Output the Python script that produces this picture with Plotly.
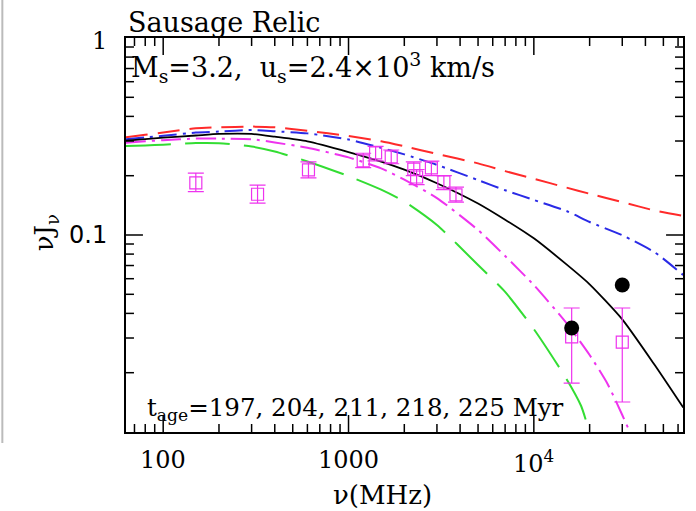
import math
import plotly.graph_objects as go

# ---------------- data ----------------
freq_model = [63, 80, 100, 150, 200, 300, 400, 600, 1000, 1500, 2000, 3000,
              5000, 7000, 10000, 15000, 20000, 30000, 45000, 64000]
red_model = [0.313, 0.323, 0.331, 0.348, 0.352, 0.355, 0.352, 0.338, 0.318, 0.299,
             0.282, 0.258, 0.231, 0.211, 0.193, 0.174, 0.162, 0.147, 0.133, 0.125]
blue_model = [0.306, 0.313, 0.319, 0.331, 0.335, 0.341, 0.336, 0.328, 0.3055, 0.277,
              0.2566, 0.227, 0.190, 0.1688, 0.1506, 0.1324, 0.1164, 0.0997, 0.0815, 0.0626]
black_model = [0.301, 0.307, 0.312, 0.320, 0.326, 0.326, 0.3155, 0.299, 0.2638, 0.2358,
               0.2145, 0.1832, 0.1445, 0.1195, 0.0962, 0.0709, 0.0562, 0.0373, 0.0218, 0.0133]

freq_magenta = [63, 80, 100, 150, 200, 300, 400, 600, 1000, 1500, 2000, 3000,
                5000, 7000, 10000, 15000, 20000, 25000, 30000, 33000, 35000]
magenta_model = [0.294, 0.2993, 0.303, 0.3085, 0.3085, 0.3064, 0.2948, 0.2772, 0.2477, 0.218,
                 0.1912, 0.154, 0.106, 0.0782, 0.0557, 0.0357, 0.0246, 0.01753, 0.0122, 0.0100, 0.0090]

freq_green = [63, 80, 100, 150, 200, 300, 400, 600, 1000, 1500, 2000, 3000,
              5000, 7000, 10000, 15000, 18000, 20000, 21000]
green_model = [0.283, 0.285, 0.2875, 0.293, 0.2924, 0.281, 0.2654, 0.2363, 0.199, 0.170,
               0.148, 0.1124, 0.0704, 0.0514, 0.0333, 0.0186, 0.01355, 0.0100, 0.0090]

freq_obs = [150, 323, 608, 1200, 1400, 1700, 2250, 2330, 2800, 3270, 3800, 16000, 30000]
flux_obs = [0.184, 0.161, 0.214, 0.238, 0.261, 0.249, 0.216, 0.197, 0.219, 0.186, 0.160, 0.0304, 0.0286]
flux_obs_hi = [0.206, 0.179, 0.235, 0.260, 0.282, 0.270, 0.235, 0.215, 0.237, 0.200, 0.175, 0.0426, 0.0426]
flux_obs_lo = [0.166, 0.145, 0.195, 0.220, 0.238, 0.230, 0.200, 0.180, 0.200, 0.170, 0.147, 0.0177, 0.0142]

freq_dots = [16000, 30000]
flux_dots = [0.0337, 0.0557]

x_range = [63, 63800]
y_range = [0.01, 1.0]
x_tick_values = [100, 1000, 10000]
x_tick_labels = ["100", "1000", "10<sup>4</sup>"]
x_minor_values = [70, 80, 90, 200, 300, 400, 500, 600, 700, 800, 900,
                  2000, 3000, 4000, 5000, 6000, 7000, 8000, 9000,
                  20000, 30000, 40000, 50000, 60000]
y_tick_values = [1.0, 0.1]
y_tick_labels = ["1", "0.1"]
y_minor_values = [0.02, 0.03, 0.04, 0.05, 0.06, 0.07, 0.08, 0.09,
                  0.2, 0.3, 0.4, 0.5, 0.6, 0.7, 0.8, 0.9]

# ---------------- figure ----------------
MAG = "#ee33ee"
fig = go.Figure()

def curve(x, y, color, dash, width=2):
    fig.add_trace(go.Scatter(x=x, y=y, mode="lines",
                             line=dict(color=color, width=width, dash=dash,
                                       shape="spline", smoothing=0.6)))

curve(freq_model, red_model, "#ff2a2a", "22px,10px")
curve(freq_model, blue_model, "#2a2ae6", "18px,6px,3px,6px")
curve(freq_model, black_model, "black", "solid", 1.8)
curve(freq_magenta, magenta_model, MAG, "20px,6px,3px,6px")
curve(freq_green, green_model, "#33dd33", "45px,14px")

err_plus = [h - v for h, v in zip(flux_obs_hi, flux_obs)]
err_minus = [v - l for v, l in zip(flux_obs, flux_obs_lo)]
fig.add_trace(go.Scatter(x=freq_obs, y=flux_obs, mode="markers",
                         marker=dict(symbol="square-open", size=12, color=MAG, line=dict(width=1.2, color=MAG)),
                         error_y=dict(type="data", array=err_plus, arrayminus=err_minus,
                                      color=MAG, thickness=1.2, width=8)))
fig.add_trace(go.Scatter(x=freq_dots, y=flux_dots, mode="markers",
                         marker=dict(symbol="circle", size=15, color="black")))

SERIF = "DejaVu Serif"
lx = [math.log10(v) for v in x_range]
ly = [math.log10(v) for v in y_range]

# ---- inward tick marks on all four sides (drawn as a line trace at the tick values) ----
PLOT_W, PLOT_H = 696 - 126 - 11, 511 - 38 - 79
XD = PLOT_W / (lx[1] - lx[0])   # px per decade (x)
YD = PLOT_H / (ly[1] - ly[0])   # px per decade (y)
MAJOR, MINOR = 17, 8
tx, ty = [], []
for vals, ln in [(x_tick_values, MAJOR), (x_minor_values, MINOR)]:
    f = 10 ** (ln / YD)
    for v in vals:
        tx += [v, v, None, v, v, None]
        ty += [y_range[0], y_range[0] * f, None, y_range[1], y_range[1] / f, None]
for vals, ln in [([0.1], MAJOR), (y_minor_values, MINOR)]:
    f = 10 ** (ln / XD)
    for v in vals:
        tx += [x_range[0], x_range[0] * f, None, x_range[1], x_range[1] / f, None]
        ty += [v, v, None, v, v, None]
fig.add_trace(go.Scatter(x=tx, y=ty, mode="lines", hoverinfo="skip",
                         line=dict(color="black", width=1.5), connectgaps=False))

fig.update_layout(
    width=696, height=511,
    margin=dict(l=126, r=11, t=38, b=79),
    paper_bgcolor="white", plot_bgcolor="white",
    showlegend=False,
    xaxis=dict(type="log", range=lx, showgrid=False, zeroline=False,
               showline=True, linecolor="black", linewidth=2, mirror=True,
               showticklabels=False, ticks=""),
    yaxis=dict(type="log", range=ly, showgrid=False, zeroline=False,
               showline=True, linecolor="black", linewidth=2, mirror=True,
               showticklabels=False, ticks=""),
)

# thin grey page edge seen at the left of the original image
fig.add_shape(type="line", xref="paper", yref="paper", x0=-0.222, x1=-0.222,
              y0=-0.028, y1=1.1, line=dict(color="#bbbbbb", width=2))

ann = [
    dict(text="Sausage Relic", x=0.0, y=1.0, xanchor="left", yanchor="bottom", yshift=-2,
         font=dict(size=27, family=SERIF)),
    dict(text="M<sub>s</sub>=3.2,  u<sub>s</sub>=2.4×10<sup>3</sup> km/s", x=0.006, y=0.924,
         xanchor="left", yanchor="middle", font=dict(size=27, family=SERIF)),
    dict(text="t<sub>age</sub>=197, 204, 211, 218, 225 Myr", x=0.034, y=0.058,
         xanchor="left", yanchor="middle", font=dict(size=24.5, family=SERIF)),
    dict(text="νJ<sub>ν</sub>", x=-0.145, y=0.505, xanchor="center", yanchor="middle",
         textangle=-90, font=dict(size=26, family=SERIF)),
    dict(text="ν(MHz)", x=0.46, y=-0.16, xanchor="center", yanchor="middle",
         font=dict(size=26, family=SERIF)),
]
for a in ann:
    a.update(xref="paper", yref="paper", showarrow=False)

# tick labels (placed at the axis values)
for v, t in zip(x_tick_values, x_tick_labels):
    ann.append(dict(text=t, x=math.log10(v), y=0, xref="x", yref="paper",
                    xanchor="center", yanchor="top", yshift=-12, showarrow=False,
                    font=dict(size=24, family=SERIF)))
fams = {"1": SERIF, "0.1": "DejaVu Sans"}
for v, t in zip(y_tick_values, y_tick_labels):
    ann.append(dict(text=t, x=0, y=math.log10(v), xref="paper", yref="y",
                    xanchor="right", yanchor="middle", xshift=-17,
                    yshift=-3 if v == 1.0 else 0, showarrow=False,
                    font=dict(size=24, family=fams[t])))
for a in ann:
    a["font"]["color"] = "black"
fig.update_layout(annotations=ann)

fig.write_html("out.html", config={"displayModeBar": False})

# remove the default browser body margin so the figure sits at the page origin
with open("out.html", "r", encoding="utf-8") as fh:
    html = fh.read()
html = html.replace("<body>", '<body style="margin:0;padding:0;">', 1)
with open("out.html", "w", encoding="utf-8") as fh:
    fh.write(html)
